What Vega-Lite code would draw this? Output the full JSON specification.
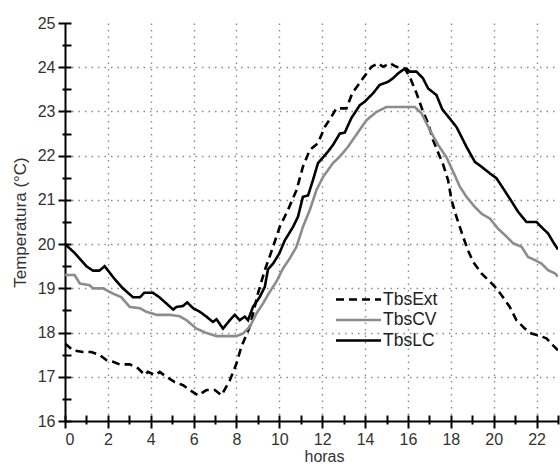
{
  "$schema": "https://vega.github.io/schema/vega-lite/v6.json",
  "width": 493,
  "height": 398,
  "autosize": "none",
  "padding": {"left": 65, "top": 23, "right": 2, "bottom": 43},
  "background": "white",
  "config": {
    "view": {"stroke": null},
    "font": "Liberation Sans",
    "axis": {
      "domainColor": "black",
      "domainWidth": 2,
      "tickColor": "black",
      "tickWidth": 2,
      "labelColor": "#333",
      "labelFontSize": 16,
      "titleColor": "#333",
      "titleFontSize": 16,
      "titleFontWeight": "normal",
      "gridColor": "#8a8a8a",
      "gridDash": [1.5, 5],
      "gridWidth": 1.4
    },
    "legend": {
      "labelFontSize": 17.5,
      "labelColor": "#222",
      "padding": 0,
      "rowPadding": 0.5,
      "symbolStrokeWidth": 2.5,
      "labelOffset": 13
    }
  },
  "data": {
    "values": [
      {"h": 0, "T": 17.75, "s": "TbsExt"}, {"h": 0.37, "T": 17.6, "s": "TbsExt"}, {"h": 0.84, "T": 17.56, "s": "TbsExt"}, {"h": 1.23, "T": 17.56, "s": "TbsExt"}, {"h": 1.62, "T": 17.49, "s": "TbsExt"}, {"h": 1.93, "T": 17.38, "s": "TbsExt"}, {"h": 2.24, "T": 17.34, "s": "TbsExt"}, {"h": 2.55, "T": 17.28, "s": "TbsExt"}, {"h": 3.02, "T": 17.28, "s": "TbsExt"}, {"h": 3.41, "T": 17.19, "s": "TbsExt"}, {"h": 3.72, "T": 17.04, "s": "TbsExt"}, {"h": 3.87, "T": 17.11, "s": "TbsExt"}, {"h": 4.19, "T": 17.04, "s": "TbsExt"}, {"h": 4.42, "T": 17.11, "s": "TbsExt"}, {"h": 4.73, "T": 17.0, "s": "TbsExt"}, {"h": 5.12, "T": 16.88, "s": "TbsExt"}, {"h": 5.51, "T": 16.81, "s": "TbsExt"}, {"h": 5.82, "T": 16.7, "s": "TbsExt"}, {"h": 6.21, "T": 16.58, "s": "TbsExt"}, {"h": 6.6, "T": 16.7, "s": "TbsExt"}, {"h": 6.99, "T": 16.7, "s": "TbsExt"}, {"h": 7.3, "T": 16.58, "s": "TbsExt"}, {"h": 7.69, "T": 16.92, "s": "TbsExt"}, {"h": 8.0, "T": 17.3, "s": "TbsExt"}, {"h": 8.23, "T": 17.68, "s": "TbsExt"}, {"h": 8.62, "T": 18.13, "s": "TbsExt"}, {"h": 9.0, "T": 18.88, "s": "TbsExt"}, {"h": 9.32, "T": 19.41, "s": "TbsExt"}, {"h": 9.6, "T": 19.79, "s": "TbsExt"}, {"h": 10.02, "T": 20.39, "s": "TbsExt"}, {"h": 10.4, "T": 20.77, "s": "TbsExt"}, {"h": 10.8, "T": 21.22, "s": "TbsExt"}, {"h": 11.1, "T": 21.75, "s": "TbsExt"}, {"h": 11.42, "T": 22.13, "s": "TbsExt"}, {"h": 11.8, "T": 22.28, "s": "TbsExt"}, {"h": 12.12, "T": 22.65, "s": "TbsExt"}, {"h": 12.43, "T": 22.88, "s": "TbsExt"}, {"h": 12.66, "T": 23.07, "s": "TbsExt"}, {"h": 13.13, "T": 23.07, "s": "TbsExt"}, {"h": 13.4, "T": 23.41, "s": "TbsExt"}, {"h": 13.9, "T": 23.75, "s": "TbsExt"}, {"h": 14.3, "T": 24.01, "s": "TbsExt"}, {"h": 14.6, "T": 24.09, "s": "TbsExt"}, {"h": 14.84, "T": 24.01, "s": "TbsExt"}, {"h": 15.15, "T": 24.09, "s": "TbsExt"}, {"h": 15.46, "T": 24.01, "s": "TbsExt"}, {"h": 15.85, "T": 23.97, "s": "TbsExt"}, {"h": 16.08, "T": 23.79, "s": "TbsExt"}, {"h": 16.4, "T": 23.41, "s": "TbsExt"}, {"h": 16.7, "T": 23.0, "s": "TbsExt"}, {"h": 16.94, "T": 22.73, "s": "TbsExt"}, {"h": 17.17, "T": 22.35, "s": "TbsExt"}, {"h": 17.64, "T": 21.8, "s": "TbsExt"}, {"h": 17.87, "T": 21.45, "s": "TbsExt"}, {"h": 18.03, "T": 21.0, "s": "TbsExt"}, {"h": 18.26, "T": 20.62, "s": "TbsExt"}, {"h": 18.57, "T": 20.17, "s": "TbsExt"}, {"h": 18.8, "T": 19.86, "s": "TbsExt"}, {"h": 19.04, "T": 19.6, "s": "TbsExt"}, {"h": 19.43, "T": 19.34, "s": "TbsExt"}, {"h": 19.74, "T": 19.19, "s": "TbsExt"}, {"h": 20.05, "T": 19.04, "s": "TbsExt"}, {"h": 20.36, "T": 18.85, "s": "TbsExt"}, {"h": 20.75, "T": 18.58, "s": "TbsExt"}, {"h": 21.06, "T": 18.28, "s": "TbsExt"}, {"h": 21.45, "T": 18.09, "s": "TbsExt"}, {"h": 21.76, "T": 17.98, "s": "TbsExt"}, {"h": 22.07, "T": 17.94, "s": "TbsExt"}, {"h": 22.46, "T": 17.87, "s": "TbsExt"}, {"h": 22.77, "T": 17.71, "s": "TbsExt"}, {"h": 23.0, "T": 17.6, "s": "TbsExt"},

      {"h": 0, "T": 19.3, "s": "TbsCV"}, {"h": 0.45, "T": 19.3, "s": "TbsCV"}, {"h": 0.69, "T": 19.11, "s": "TbsCV"}, {"h": 1.15, "T": 19.07, "s": "TbsCV"}, {"h": 1.3, "T": 19.0, "s": "TbsCV"}, {"h": 1.77, "T": 19.0, "s": "TbsCV"}, {"h": 2.24, "T": 18.88, "s": "TbsCV"}, {"h": 2.63, "T": 18.8, "s": "TbsCV"}, {"h": 3.02, "T": 18.58, "s": "TbsCV"}, {"h": 3.49, "T": 18.55, "s": "TbsCV"}, {"h": 3.8, "T": 18.47, "s": "TbsCV"}, {"h": 4.27, "T": 18.4, "s": "TbsCV"}, {"h": 4.89, "T": 18.4, "s": "TbsCV"}, {"h": 5.35, "T": 18.37, "s": "TbsCV"}, {"h": 5.67, "T": 18.28, "s": "TbsCV"}, {"h": 6.13, "T": 18.09, "s": "TbsCV"}, {"h": 6.6, "T": 17.99, "s": "TbsCV"}, {"h": 7.07, "T": 17.92, "s": "TbsCV"}, {"h": 7.53, "T": 17.92, "s": "TbsCV"}, {"h": 8.0, "T": 17.92, "s": "TbsCV"}, {"h": 8.31, "T": 17.98, "s": "TbsCV"}, {"h": 8.62, "T": 18.13, "s": "TbsCV"}, {"h": 8.93, "T": 18.43, "s": "TbsCV"}, {"h": 9.24, "T": 18.66, "s": "TbsCV"}, {"h": 9.55, "T": 18.92, "s": "TbsCV"}, {"h": 9.86, "T": 19.15, "s": "TbsCV"}, {"h": 10.17, "T": 19.45, "s": "TbsCV"}, {"h": 10.49, "T": 19.68, "s": "TbsCV"}, {"h": 10.8, "T": 19.94, "s": "TbsCV"}, {"h": 11.1, "T": 20.39, "s": "TbsCV"}, {"h": 11.42, "T": 20.77, "s": "TbsCV"}, {"h": 11.73, "T": 21.22, "s": "TbsCV"}, {"h": 12.04, "T": 21.52, "s": "TbsCV"}, {"h": 12.5, "T": 21.83, "s": "TbsCV"}, {"h": 12.82, "T": 21.98, "s": "TbsCV"}, {"h": 13.2, "T": 22.2, "s": "TbsCV"}, {"h": 13.6, "T": 22.48, "s": "TbsCV"}, {"h": 14.06, "T": 22.8, "s": "TbsCV"}, {"h": 14.53, "T": 22.99, "s": "TbsCV"}, {"h": 15.0, "T": 23.1, "s": "TbsCV"}, {"h": 16.32, "T": 23.1, "s": "TbsCV"}, {"h": 16.63, "T": 22.96, "s": "TbsCV"}, {"h": 17.02, "T": 22.58, "s": "TbsCV"}, {"h": 17.4, "T": 22.25, "s": "TbsCV"}, {"h": 17.8, "T": 21.96, "s": "TbsCV"}, {"h": 18.18, "T": 21.56, "s": "TbsCV"}, {"h": 18.42, "T": 21.3, "s": "TbsCV"}, {"h": 18.73, "T": 21.07, "s": "TbsCV"}, {"h": 19.12, "T": 20.84, "s": "TbsCV"}, {"h": 19.43, "T": 20.69, "s": "TbsCV"}, {"h": 19.82, "T": 20.58, "s": "TbsCV"}, {"h": 20.2, "T": 20.35, "s": "TbsCV"}, {"h": 20.6, "T": 20.17, "s": "TbsCV"}, {"h": 20.9, "T": 20.02, "s": "TbsCV"}, {"h": 21.3, "T": 19.94, "s": "TbsCV"}, {"h": 21.6, "T": 19.71, "s": "TbsCV"}, {"h": 21.92, "T": 19.64, "s": "TbsCV"}, {"h": 22.23, "T": 19.56, "s": "TbsCV"}, {"h": 22.54, "T": 19.41, "s": "TbsCV"}, {"h": 22.85, "T": 19.34, "s": "TbsCV"}, {"h": 23.0, "T": 19.27, "s": "TbsCV"},

      {"h": 0, "T": 20.0, "s": "TbsLC"}, {"h": 0.45, "T": 19.8, "s": "TbsLC"}, {"h": 1.0, "T": 19.5, "s": "TbsLC"}, {"h": 1.3, "T": 19.4, "s": "TbsLC"}, {"h": 1.6, "T": 19.4, "s": "TbsLC"}, {"h": 1.85, "T": 19.5, "s": "TbsLC"}, {"h": 2.25, "T": 19.25, "s": "TbsLC"}, {"h": 2.7, "T": 19.0, "s": "TbsLC"}, {"h": 3.17, "T": 18.8, "s": "TbsLC"}, {"h": 3.5, "T": 18.8, "s": "TbsLC"}, {"h": 3.7, "T": 18.9, "s": "TbsLC"}, {"h": 4.1, "T": 18.9, "s": "TbsLC"}, {"h": 4.4, "T": 18.8, "s": "TbsLC"}, {"h": 4.7, "T": 18.67, "s": "TbsLC"}, {"h": 5.05, "T": 18.52, "s": "TbsLC"}, {"h": 5.2, "T": 18.58, "s": "TbsLC"}, {"h": 5.5, "T": 18.6, "s": "TbsLC"}, {"h": 5.7, "T": 18.68, "s": "TbsLC"}, {"h": 5.98, "T": 18.55, "s": "TbsLC"}, {"h": 6.29, "T": 18.47, "s": "TbsLC"}, {"h": 6.6, "T": 18.36, "s": "TbsLC"}, {"h": 6.9, "T": 18.24, "s": "TbsLC"}, {"h": 7.07, "T": 18.3, "s": "TbsLC"}, {"h": 7.37, "T": 18.09, "s": "TbsLC"}, {"h": 7.69, "T": 18.28, "s": "TbsLC"}, {"h": 7.92, "T": 18.4, "s": "TbsLC"}, {"h": 8.15, "T": 18.28, "s": "TbsLC"}, {"h": 8.39, "T": 18.36, "s": "TbsLC"}, {"h": 8.54, "T": 18.28, "s": "TbsLC"}, {"h": 8.77, "T": 18.58, "s": "TbsLC"}, {"h": 9.08, "T": 18.8, "s": "TbsLC"}, {"h": 9.32, "T": 19.03, "s": "TbsLC"}, {"h": 9.47, "T": 19.43, "s": "TbsLC"}, {"h": 9.71, "T": 19.56, "s": "TbsLC"}, {"h": 10.0, "T": 19.79, "s": "TbsLC"}, {"h": 10.25, "T": 20.08, "s": "TbsLC"}, {"h": 10.64, "T": 20.39, "s": "TbsLC"}, {"h": 10.87, "T": 20.62, "s": "TbsLC"}, {"h": 11.1, "T": 21.07, "s": "TbsLC"}, {"h": 11.34, "T": 21.1, "s": "TbsLC"}, {"h": 11.57, "T": 21.45, "s": "TbsLC"}, {"h": 11.8, "T": 21.83, "s": "TbsLC"}, {"h": 12.2, "T": 22.05, "s": "TbsLC"}, {"h": 12.5, "T": 22.24, "s": "TbsLC"}, {"h": 12.82, "T": 22.5, "s": "TbsLC"}, {"h": 13.05, "T": 22.52, "s": "TbsLC"}, {"h": 13.36, "T": 22.85, "s": "TbsLC"}, {"h": 13.75, "T": 23.14, "s": "TbsLC"}, {"h": 13.98, "T": 23.22, "s": "TbsLC"}, {"h": 14.37, "T": 23.41, "s": "TbsLC"}, {"h": 14.68, "T": 23.6, "s": "TbsLC"}, {"h": 15.07, "T": 23.67, "s": "TbsLC"}, {"h": 15.3, "T": 23.75, "s": "TbsLC"}, {"h": 15.54, "T": 23.86, "s": "TbsLC"}, {"h": 15.77, "T": 23.94, "s": "TbsLC"}, {"h": 15.93, "T": 23.97, "s": "TbsLC"}, {"h": 16.08, "T": 23.9, "s": "TbsLC"}, {"h": 16.4, "T": 23.9, "s": "TbsLC"}, {"h": 16.7, "T": 23.75, "s": "TbsLC"}, {"h": 16.94, "T": 23.52, "s": "TbsLC"}, {"h": 17.33, "T": 23.37, "s": "TbsLC"}, {"h": 17.6, "T": 23.05, "s": "TbsLC"}, {"h": 17.95, "T": 22.84, "s": "TbsLC"}, {"h": 18.26, "T": 22.65, "s": "TbsLC"}, {"h": 18.42, "T": 22.5, "s": "TbsLC"}, {"h": 18.73, "T": 22.2, "s": "TbsLC"}, {"h": 19.12, "T": 21.86, "s": "TbsLC"}, {"h": 19.43, "T": 21.75, "s": "TbsLC"}, {"h": 19.82, "T": 21.6, "s": "TbsLC"}, {"h": 20.13, "T": 21.49, "s": "TbsLC"}, {"h": 20.44, "T": 21.26, "s": "TbsLC"}, {"h": 20.75, "T": 21.03, "s": "TbsLC"}, {"h": 21.14, "T": 20.73, "s": "TbsLC"}, {"h": 21.53, "T": 20.5, "s": "TbsLC"}, {"h": 22.0, "T": 20.5, "s": "TbsLC"}, {"h": 22.3, "T": 20.35, "s": "TbsLC"}, {"h": 22.54, "T": 20.24, "s": "TbsLC"}, {"h": 22.77, "T": 20.05, "s": "TbsLC"}, {"h": 23.0, "T": 19.88, "s": "TbsLC"}
    ]
  },
  "layer": [
    {
      "mark": {"type": "line", "strokeWidth": 2.6, "clip": true},
      "encoding": {
        "x": {
          "field": "h", "type": "quantitative",
          "scale": {"domain": [0, 23], "nice": false, "zero": false},
          "axis": {
            "title": "horas",
            "titlePadding": 1,
            "titleX": 259,
            "values": [0, 2, 4, 6, 8, 10, 12, 14, 16, 18, 20, 22],
            "format": "d",
            "ticks": false,
            "labelPadding": 10,
            "grid": true,
            "gridOpacity": {"condition": {"test": "datum.value > 0", "value": 1}, "value": 0}
          }
        },
        "y": {
          "field": "T", "type": "quantitative",
          "scale": {"domain": [16, 25], "nice": false, "zero": false},
          "axis": {
            "title": "Temperatura (°C)",
            "titleFontSize": 17,
            "titlePadding": 8,
            "values": [16, 17, 18, 19, 20, 21, 22, 23, 24, 25],
            "format": "d",
            "ticks": false,
            "labelPadding": 10,
            "grid": true,
            "gridOpacity": {"condition": {"test": "datum.value > 16 && datum.value < 25", "value": 1}, "value": 0}
          }
        },
        "color": {
          "field": "s", "type": "nominal",
          "scale": {"domain": ["TbsExt", "TbsCV", "TbsLC"], "range": ["#000000", "#8c8c8c", "#000000"]},
          "legend": {
            "title": null,
            "orient": "none",
            "legendX": 282,
            "legendY": 265,
            "symbolType": "M-2.25,0H2.25",
            "symbolSize": 400
          }
        },
        "strokeDash": {
          "field": "s", "type": "nominal",
          "scale": {"domain": ["TbsExt", "TbsCV", "TbsLC"], "range": [[8, 5], [1, 0], [1, 0]]},
          "legend": null
        }
      }
    },
    {
      "mark": {"type": "point", "opacity": 0},
      "encoding": {
        "x": {
          "field": "h", "type": "quantitative",
          "axis": {
            "orient": "bottom",
            "offset": -6,
            "title": null,
            "labels": false,
            "domain": false,
            "grid": false,
            "values": [0, 1, 2, 3, 4, 5, 6, 7, 8, 9, 10, 11, 12, 13, 14, 15, 16, 17, 18, 19, 20, 21, 22, 23],
            "tickSize": {"condition": {"test": "datum.value % 2 === 0", "value": 13}, "value": 9}
          }
        },
        "y": {
          "field": "T", "type": "quantitative",
          "axis": {
            "orient": "left",
            "offset": -6,
            "title": null,
            "labels": false,
            "domain": false,
            "grid": false,
            "values": [16, 16.5, 17, 17.5, 18, 18.5, 19, 19.5, 20, 20.5, 21, 21.5, 22, 22.5, 23, 23.5, 24, 24.5, 25],
            "tickSize": {"condition": {"test": "datum.value % 1 === 0", "value": 13}, "value": 9}
          }
        }
      }
    }
  ],
  "resolve": {"axis": {"x": "independent", "y": "independent"}}
}
